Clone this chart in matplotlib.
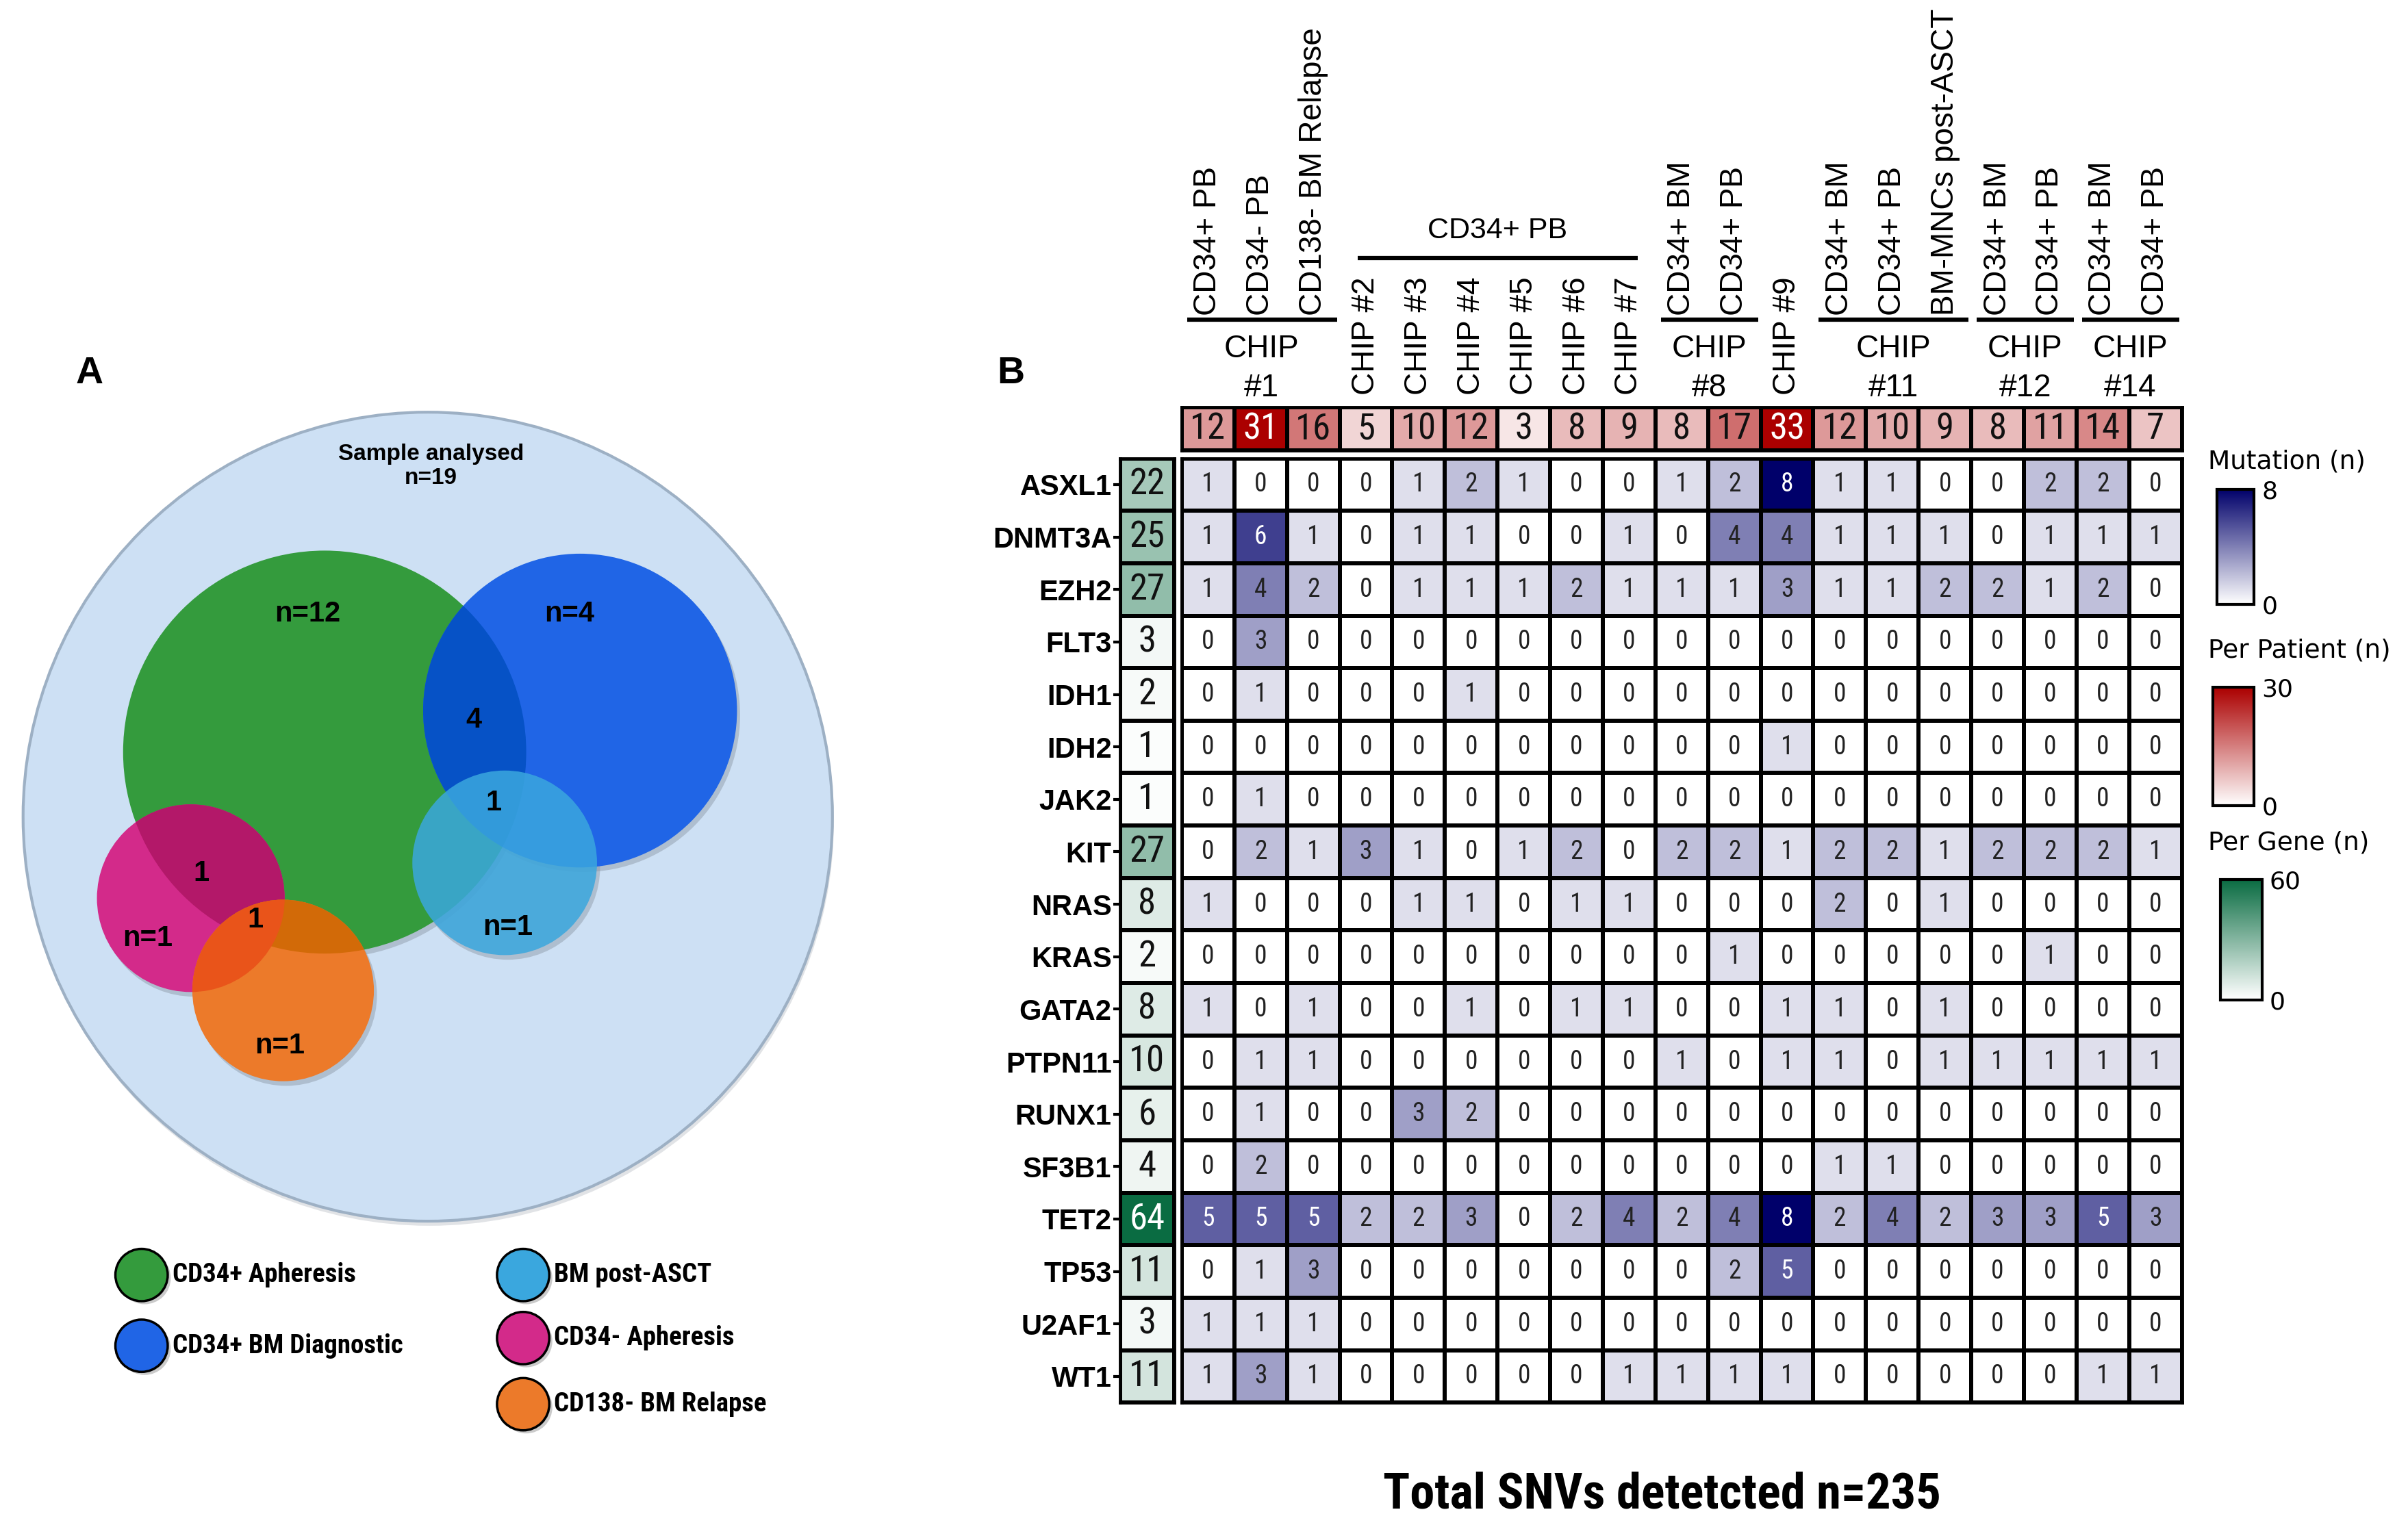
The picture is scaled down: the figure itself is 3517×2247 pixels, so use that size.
import numpy as np
import matplotlib.pyplot as plt
from matplotlib.colors import LinearSegmentedColormap, Normalize
from matplotlib.cm import ScalarMappable
from matplotlib.patches import Circle
from matplotlib import transforms

# ---- data ----
genes = ["ASXL1", "DNMT3A", "EZH2", "FLT3", "IDH1", "IDH2", "JAK2", "KIT", "NRAS",
         "KRAS", "GATA2", "PTPN11", "RUNX1", "SF3B1", "TET2", "TP53", "U2AF1", "WT1"]
samples = ["CD34+ PB", "CD34- PB", "CD138- BM Relapse", "CHIP #2", "CHIP #3", "CHIP #4",
           "CHIP #5", "CHIP #6", "CHIP #7", "CD34+ BM", "CD34+ PB", "CHIP #9",
           "CD34+ BM", "CD34+ PB", "BM-MNCs post-ASCT", "CD34+ BM", "CD34+ PB",
           "CD34+ BM", "CD34+ PB"]
per_patient = [12, 31, 16, 5, 10, 12, 3, 8, 9, 8, 17, 33, 12, 10, 9, 8, 11, 14, 7]
per_gene = [22, 25, 27, 3, 2, 1, 1, 27, 8, 2, 8, 10, 6, 4, 64, 11, 3, 11]
mutations = np.array([
    [1, 0, 0, 0, 1, 2, 1, 0, 0, 1, 2, 8, 1, 1, 0, 0, 2, 2, 0],
    [1, 6, 1, 0, 1, 1, 0, 0, 1, 0, 4, 4, 1, 1, 1, 0, 1, 1, 1],
    [1, 4, 2, 0, 1, 1, 1, 2, 1, 1, 1, 3, 1, 1, 2, 2, 1, 2, 0],
    [0, 3, 0, 0, 0, 0, 0, 0, 0, 0, 0, 0, 0, 0, 0, 0, 0, 0, 0],
    [0, 1, 0, 0, 0, 1, 0, 0, 0, 0, 0, 0, 0, 0, 0, 0, 0, 0, 0],
    [0, 0, 0, 0, 0, 0, 0, 0, 0, 0, 0, 1, 0, 0, 0, 0, 0, 0, 0],
    [0, 1, 0, 0, 0, 0, 0, 0, 0, 0, 0, 0, 0, 0, 0, 0, 0, 0, 0],
    [0, 2, 1, 3, 1, 0, 1, 2, 0, 2, 2, 1, 2, 2, 1, 2, 2, 2, 1],
    [1, 0, 0, 0, 1, 1, 0, 1, 1, 0, 0, 0, 2, 0, 1, 0, 0, 0, 0],
    [0, 0, 0, 0, 0, 0, 0, 0, 0, 0, 1, 0, 0, 0, 0, 0, 1, 0, 0],
    [1, 0, 1, 0, 0, 1, 0, 1, 1, 0, 0, 1, 1, 0, 1, 0, 0, 0, 0],
    [0, 1, 1, 0, 0, 0, 0, 0, 0, 1, 0, 1, 1, 0, 1, 1, 1, 1, 1],
    [0, 1, 0, 0, 3, 2, 0, 0, 0, 0, 0, 0, 0, 0, 0, 0, 0, 0, 0],
    [0, 2, 0, 0, 0, 0, 0, 0, 0, 0, 0, 0, 1, 1, 0, 0, 0, 0, 0],
    [5, 5, 5, 2, 2, 3, 0, 2, 4, 2, 4, 8, 2, 4, 2, 3, 3, 5, 3],
    [0, 1, 3, 0, 0, 0, 0, 0, 0, 0, 2, 5, 0, 0, 0, 0, 0, 0, 0],
    [1, 1, 1, 0, 0, 0, 0, 0, 0, 0, 0, 0, 0, 0, 0, 0, 0, 0, 0],
    [1, 3, 1, 0, 0, 0, 0, 0, 1, 1, 1, 1, 0, 0, 0, 0, 0, 1, 1],
])
patient_groups = [("CHIP\n#1", 0, 2), ("CHIP\n#8", 9, 10), ("CHIP\n#11", 12, 14),
                  ("CHIP\n#12", 15, 16), ("CHIP\n#14", 17, 18)]
chip_only_cols = [3, 4, 5, 6, 7, 8, 11]
pb_group = ("CD34+ PB", 3, 8)

venn_names = ["CD34+ Apheresis", "CD34+ BM Diagnostic", "BM post-ASCT",
              "CD34- Apheresis", "CD138- BM Relapse"]
venn_labels = ["n=12", "n=4", "4", "1", "n=1", "1", "1", "n=1", "n=1"]
total_samples = 19
total_snvs = 235

# ---- layout (reference frame 1565 x 1000) ----
W, H = 1565.0, 1000.0
venn_circles = [(211, 489, 131), (377, 462, 102), (328, 561, 60), (124, 584, 61), (184, 644, 59)]
venn_colors = ["#349b3d", "#2065e6", "#3aa7de", "#d32a8a", "#ec7a2a"]
venn_label_pos = [(200, 399), (370, 399), (308, 468), (321, 522), (330, 603),
                  (131, 568), (166, 598), (96, 610), (182, 680)]
legend_pos = [(92, 829), (92, 875), (340, 829), (340, 870), (340, 913)]

NARROW = ["Roboto Condensed", "Liberation Sans", "DejaVu Sans"]
ARIAL = ["Liberation Sans", "DejaVu Sans"]
plt.rcParams["font.family"] = ARIAL


def rect(x0, y0, x1, y1):
    return [x0 / W, 1 - y1 / H, (x1 - x0) / W, (y1 - y0) / H]


fig = plt.figure(figsize=(35.17, 22.47), dpi=100)
canvas = fig.add_axes([0, 0, 1, 1])
canvas.set_xlim(0, W)
canvas.set_ylim(H, 0)
canvas.axis("off")

# ---- panel A: venn ----
canvas.add_patch(Circle((279, 534), 263, fc="#c4c9cf", ec="none", alpha=0.5, zorder=1))
canvas.add_patch(Circle((278, 531), 263, fc="#cde0f4", ec="#9db0c4", lw=3, zorder=2))
for (cx, cy, r) in venn_circles:
    canvas.add_patch(Circle((cx + 2, cy + 3), r, fc="#8a96a3", ec="none", alpha=0.45, zorder=3))
for i, (cx, cy, r) in enumerate(venn_circles[:2]):
    canvas.add_patch(Circle((cx, cy), r, fc=venn_colors[i], ec="none", zorder=4))


def overlap(a, b, color, z):
    ca, cb = venn_circles[a], venn_circles[b]
    p = Circle(ca[:2], ca[2], fc=color, ec="none", zorder=z)
    canvas.add_patch(p)
    clip = Circle(cb[:2], cb[2], transform=canvas.transData)
    p.set_clip_path(clip)


overlap(1, 0, "#0652c6", 5)
c = venn_circles[3]
canvas.add_patch(Circle(c[:2], c[2], fc=venn_colors[3], ec="none", zorder=6))
overlap(3, 0, "#b31869", 7)
c = venn_circles[4]
canvas.add_patch(Circle(c[:2], c[2], fc=venn_colors[4], ec="none", zorder=8))
overlap(4, 0, "#d26a08", 9)
overlap(4, 3, "#e9541a", 9)
c = venn_circles[2]
canvas.add_patch(Circle(c[:2], c[2], fc=venn_colors[2], ec="none", alpha=0.85, zorder=10))

canvas.text(280, 303, "Sample analysed\nn=%d" % total_samples, ha="center", va="center",
            fontsize=24, fontweight="bold", linespacing=1.15, zorder=12)
for lab, (x, y) in zip(venn_labels, venn_label_pos):
    canvas.text(x, y, lab, ha="center", va="center", fontsize=30, fontweight="bold", zorder=12)

for name, col, (x, y) in zip(venn_names, venn_colors, legend_pos):
    canvas.add_patch(Circle((x + 2, y + 2), 17, fc="#999999", ec="none", alpha=0.5, zorder=2))
    canvas.add_patch(Circle((x, y), 17, fc=col, ec="black", lw=2.5, zorder=3))
    canvas.text(x + 20, y, name, ha="left", va="center", fontsize=28, fontweight="bold",
                family=NARROW, zorder=4)

canvas.text(58, 243, "A", ha="center", va="center", fontsize=40, fontweight="bold")
canvas.text(657, 243, "B", ha="center", va="center", fontsize=40, fontweight="bold")

# ---- panel B: heatmap ----
cm_mut = LinearSegmentedColormap.from_list("mut", ["#ffffff", "#00006a"])
cm_pat = LinearSegmentedColormap.from_list("pat", ["#ffffff", "#ab0000"])
cm_gene = LinearSegmentedColormap.from_list("gene", ["#ffffff", "#0a6c42"])
norm_mut = Normalize(0, 8)
norm_pat = Normalize(0, 30)
norm_gene = Normalize(0, 60)

nr, nc = mutations.shape
ax = fig.add_axes(rect(768, 298, 1418, 912))
ax.pcolormesh(np.arange(nc + 1) - 0.5, np.arange(nr + 1) - 0.5, mutations, cmap=cm_mut,
              norm=norm_mut, edgecolors="black", linewidth=3)
for i in range(nr):
    for j in range(nc):
        v = mutations[i, j]
        ax.text(j, i, str(v), ha="center", va="center", fontsize=27, family=NARROW,
                color="white" if v >= 5 else "#222222")
ax.set_xlim(-0.5, nc - 0.5)
ax.set_ylim(nr - 0.5, -0.5)
ax.set_xticks([])
ax.set_yticks([])

ax_p = fig.add_axes(rect(768, 265, 1418, 293))
pp = np.array(per_patient)[None, :]
ax_p.pcolormesh(np.arange(nc + 1) - 0.5, [-0.5, 0.5], pp, cmap=cm_pat, norm=norm_pat,
                edgecolors="black", linewidth=3)
for j, v in enumerate(per_patient):
    ax_p.text(j, 0, str(v), ha="center", va="center", fontsize=38, family=NARROW,
              color="white" if v >= 30 else "#111111")
ax_p.set_xlim(-0.5, nc - 0.5)
ax_p.set_ylim(0.5, -0.5)
ax_p.set_xticks([])
ax_p.set_yticks([])

ax_g = fig.add_axes(rect(728, 298, 763, 912))
gg = np.array(per_gene)[:, None]
ax_g.pcolormesh([-0.5, 0.5], np.arange(nr + 1) - 0.5, gg, cmap=cm_gene, norm=norm_gene,
                edgecolors="black", linewidth=3)
for i, v in enumerate(per_gene):
    ax_g.text(0, i, str(v), ha="center", va="center", fontsize=38, family=NARROW,
              color="white" if v >= 60 else "#111111")
ax_g.set_xlim(-0.5, 0.5)
ax_g.set_ylim(nr - 0.5, -0.5)
ax_g.set_xticks([])
ax_g.set_yticks(range(nr))
ax_g.set_yticklabels(genes, fontsize=30, fontweight="bold")
ax_g.tick_params(axis="y", length=7, width=3, pad=2)

for a in (ax, ax_p, ax_g):
    for s in a.spines.values():
        s.set_linewidth(3.5)

# column labels
tr = transforms.blended_transform_factory(ax_p.transData, canvas.transData)
for j, lab in enumerate(samples):
    ybot = 257 if j in chip_only_cols else 205
    canvas.text(j, ybot, lab, transform=tr, rotation=90, ha="center", va="bottom", fontsize=33)
for lab, c0, c1 in patient_groups:
    canvas.plot([c0 - 0.4, c1 + 0.45], [208, 208], color="black", lw=4.5, transform=tr,
                solid_capstyle="butt")
    canvas.text((c0 + c1) / 2 + 0.02, 217, lab, transform=tr, ha="center", va="top",
                fontsize=33, linespacing=1.4)
lab, c0, c1 = pb_group
canvas.plot([c0 - 0.16, c1 + 0.16], [168, 168], color="black", lw=4.5, transform=tr,
            solid_capstyle="butt")
canvas.text((c0 + c1) / 2, 150, lab, transform=tr, ha="center", va="center", fontsize=31)

canvas.text(1080, 972, "Total SNVs detetcted n=%d" % total_snvs, ha="center", va="center",
            fontsize=52, fontweight="bold", family=NARROW)

# colour legends
bars = [("Mutation (n)", 300, rect(1441, 318, 1465, 393), cm_mut, norm_mut, [0, 8]),
        ("Per Patient (n)", 423, rect(1438, 447, 1465, 524), cm_pat, norm_pat, [0, 30]),
        ("Per Gene (n)", 548, rect(1443, 572, 1470, 650), cm_gene, norm_gene, [0, 60])]
for title, ty, r, cmap, norm, ticks in bars:
    canvas.text(1435, ty, title, ha="left", va="center", fontsize=27, family="DejaVu Sans")
    cax = fig.add_axes(r)
    cb = fig.colorbar(ScalarMappable(norm=norm, cmap=cmap), cax=cax, ticks=ticks)
    cb.outline.set_linewidth(3)
    cax.tick_params(length=0, labelsize=26, pad=8)
    for t in cax.get_yticklabels():
        t.set_family("DejaVu Sans")

fig.savefig("out.png", dpi=100)
